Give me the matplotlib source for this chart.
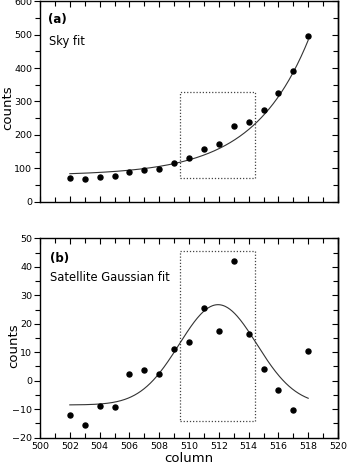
import numpy as np
import matplotlib
matplotlib.use("Agg")
import matplotlib.pyplot as plt
from matplotlib.ticker import MultipleLocator
from matplotlib.patches import Rectangle

plt.rcParams['font.family'] = ['DejaVu Sans']

# ---- data ----
columns = [502, 503, 504, 505, 506, 507, 508, 509, 510, 511, 512, 513, 514, 515, 516, 517, 518]
sky_counts = [70, 67, 75, 76, 89, 94, 99, 116, 130, 157, 172, 225, 237, 274, 325, 390, 495]
sat_counts = [-12.1, -15.7, -8.7, -9.1, 2.4, 3.7, 2.2, 11.1, 13.7, 25.5, 17.5, 42.2, 16.4, 4.2, -3.4, -10.2, 10.6]

# fitted model parameters
sky_fit = dict(base=78.0, amp=406.0, rate=0.27, ref=518.0)
gauss_fit = dict(base=-8.5, amp=35.2, mu=511.95, sigma=2.6)

# dotted windows (x0, x1, y0, y1)
box_a = (509.4, 514.4, 70, 330)
box_b = (509.4, 514.45, -14.3, 45.6)

fit_range = (502, 518)

W, H = 348, 473
fig = plt.figure(figsize=(W / 100, H / 100), dpi=100)

ax1 = fig.add_axes([40 / W, 1 - 201.5 / H, 298 / W, 200 / H])
ax2 = fig.add_axes([40 / W, 1 - 437.7 / H, 298 / W, 199.4 / H])

xf = np.linspace(fit_range[0], fit_range[1], 300)
yf_sky = sky_fit['base'] + sky_fit['amp'] * np.exp(sky_fit['rate'] * (xf - sky_fit['ref']))
yf_sat = gauss_fit['base'] + gauss_fit['amp'] * np.exp(-(xf - gauss_fit['mu']) ** 2 / (2 * gauss_fit['sigma'] ** 2))

def style(ax, ylim, ymaj, ymin, xlabels):
    ax.set_xlim(500, 520)
    ax.set_ylim(*ylim)
    ax.xaxis.set_major_locator(MultipleLocator(2))
    ax.xaxis.set_minor_locator(MultipleLocator(1))
    ax.yaxis.set_major_locator(MultipleLocator(ymaj))
    ax.yaxis.set_minor_locator(MultipleLocator(ymin))
    ax.tick_params(axis='x', which='both', direction='in', top=True, bottom=True,
                   labelbottom=xlabels, labelsize=6.8, width=0.8, pad=3)
    ax.tick_params(axis='x', which='major', length=4.5)
    ax.tick_params(axis='x', which='minor', length=3.5)
    ax.tick_params(axis='y', which='both', direction='out', left=True, right=False,
                   labelsize=6.8, width=0.8, pad=1.2)
    ax.tick_params(axis='y', which='major', length=4.5)
    ax.tick_params(axis='y', which='minor', length=3.5)
    for s in ax.spines.values():
        s.set_linewidth(1.0)
    sec = ax.secondary_yaxis('right')
    sec.yaxis.set_major_locator(MultipleLocator(ymaj))
    sec.yaxis.set_minor_locator(MultipleLocator(ymin))
    sec.tick_params(axis='y', which='both', direction='in', labelright=False, width=0.8)
    sec.tick_params(axis='y', which='major', length=4.5)
    sec.tick_params(axis='y', which='minor', length=3.5)
    sec.spines['right'].set_linewidth(1.0)

style(ax1, (0, 600), 100, 50, False)
style(ax2, (-20, 50), 10, 5, True)

for ax, y, fit, box in [(ax1, sky_counts, yf_sky, box_a), (ax2, sat_counts, yf_sat, box_b)]:
    ax.plot(columns, y, 'o', color='black', markersize=3.6, zorder=3)
    ax.plot(xf, fit, '-', color='#333333', linewidth=0.8, zorder=2)
    ax.add_patch(Rectangle((box[0], box[2]), box[1] - box[0], box[3] - box[2],
                           fill=False, linestyle=(0, (1, 1.5)), linewidth=0.9, edgecolor='#444444'))

ax1.set_ylabel('counts', fontsize=9.5, va='center')
ax1.yaxis.set_label_coords(-0.108, 0.47)
ax2.set_ylabel('counts', fontsize=9.5, va='center')
ax2.yaxis.set_label_coords(-0.088, 0.46)

ax2.set_xlabel('column', fontsize=9.5, labelpad=0.5)

ax1.text(0.028, 0.91, '(a)', transform=ax1.transAxes, fontsize=8.5, fontweight='bold', va='center', ha='left')
ax1.text(0.031, 0.80, 'Sky fit', transform=ax1.transAxes, fontsize=8.3, va='center', ha='left')
ax2.text(0.034, 0.90, '(b)', transform=ax2.transAxes, fontsize=8.5, fontweight='bold', va='center', ha='left')
ax2.text(0.034, 0.805, 'Satellite Gaussian fit', transform=ax2.transAxes, fontsize=8.3, va='center', ha='left')

fig.savefig('out.png', dpi=100)
